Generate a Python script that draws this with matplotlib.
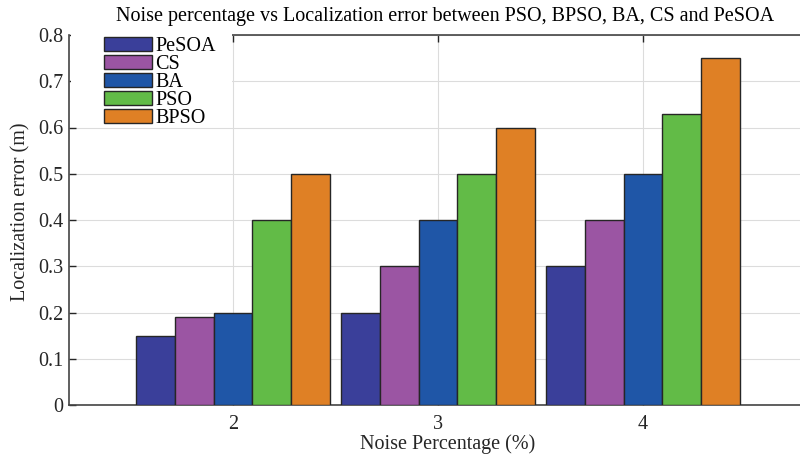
import numpy as np
import matplotlib
matplotlib.use("Agg")
import matplotlib.pyplot as plt
from matplotlib.patches import Rectangle

noise = [2, 3, 4]
methods = ["PeSOA", "CS", "BA", "PSO", "BPSO"]
errors = {
    "PeSOA": [0.15, 0.20, 0.30],
    "CS": [0.19, 0.30, 0.40],
    "BA": [0.20, 0.40, 0.50],
    "PSO": [0.40, 0.50, 0.63],
    "BPSO": [0.50, 0.60, 0.75],
}
colors = ["#3a3f9a", "#9b55a3", "#1f56a7", "#62bb47", "#df8025"]
yticks = [0, 0.1, 0.2, 0.3, 0.4, 0.5, 0.6, 0.7, 0.8]


def main():
    plt.rcParams['font.family'] = ['Liberation Serif', 'DejaVu Serif']
    txt = '#262626'
    W, H = 800, 458

    fig = plt.figure(figsize=(8, 4.58), dpi=100)
    ax = fig.add_axes([69 / W, 53 / H, 738 / W, 370 / H])

    w = 0.19
    x = np.array(noise, dtype=float)
    for i, m in enumerate(methods):
        ax.bar(x + (i - 2) * w, errors[m], width=w, color=colors[i],
               edgecolor='#262626', linewidth=1.0, label=m, zorder=3)

    ax.set_xlim(1.2, 4.8)
    ax.set_ylim(0, 0.8)
    ax.set_xticks(noise)
    ax.set_yticks(yticks)
    ax.set_yticklabels(['0'] + ['%.1f' % v for v in yticks[1:]])
    ax.grid(True, color='#dcdcdc', linewidth=0.8, zorder=0)
    ax.set_axisbelow(True)
    ax.tick_params(direction='in', length=5, width=1, colors=txt,
                   labelsize=14.5, top=True, right=True)
    ax.tick_params(axis='x', pad=7)
    ax.tick_params(axis='y', pad=4)
    for s in ax.spines.values():
        s.set_color('#444444')
        s.set_linewidth(1.2)
    # legend box hides the start of the top edge
    ax.spines['top'].set_bounds(1.2 + (232 - 69) / 205, 4.8)

    fig.text(445 / W, 1 - 16 / H,
             'Noise percentage vs Localization error between PSO, BPSO, BA, CS and PeSOA',
             fontsize=14.5, color='black', ha='center', va='center')
    fig.text(448 / W, 1 - 444 / H, 'Noise Percentage (%)', fontsize=14.5,
             color=txt, ha='center', va='center')
    fig.text(21 / W, 1 - 212 / H, 'Localization error (m)', fontsize=14.5,
             color=txt, ha='center', va='center', rotation=90)

    # white legend background over the grid and ticks
    bg = Rectangle((71 / W, 1 - 125 / H), (232 - 71) / W, (125 - 30) / H,
                   transform=fig.transFigure, facecolor='white',
                   edgecolor='none', zorder=4)
    fig.add_artist(bg)

    handles, labels = ax.get_legend_handles_labels()
    leg = fig.legend(handles, labels, loc='upper left',
                     bbox_to_anchor=(104 / W, 1 - 37 / H), fontsize=14.5,
                     frameon=False, handlelength=2.4, handleheight=0.7,
                     labelspacing=-0.06, handletextpad=0.15,
                     borderaxespad=0.0, borderpad=0.0)
    leg.set_zorder(6)
    for t in leg.get_texts():
        t.set_color('black')

    fig.savefig('out.png', dpi=100)


if __name__ == "__main__":
    main()
